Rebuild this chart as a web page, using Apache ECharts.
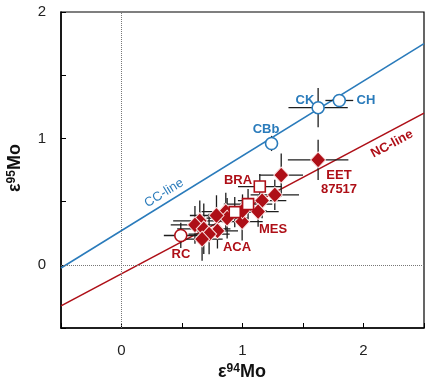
<!DOCTYPE html>
<html>
<head>
<meta charset="utf-8">
<script src="https://cdn.jsdelivr.net/npm/echarts@6/dist/echarts.min.js"></script>
<style>html,body{margin:0;padding:0;background:#fff;}#c{width:431px;height:384px;}</style>
</head>
<body>
<div id="c"></div>
<script>
// ---- data (epsilon94Mo, epsilon95Mo, x error, y error) ----
const diamondPts = [
  [1.625, 0.83, 0.25, 0.16],
  [1.32, 0.71, 0.18, 0.17],
  [1.267, 0.553, 0.2, 0.12],
  [1.162, 0.508, 0.2, 0.14],
  [1.129, 0.421, 0.17, 0.12],
  [0.997, 0.342, 0.17, 0.15],
  [1.0, 0.427, 0.2, 0.13],
  [0.862, 0.421, 0.2, 0.15],
  [0.873, 0.369, 0.17, 0.16],
  [0.785, 0.39, 0.22, 0.16],
  [0.793, 0.269, 0.17, 0.14],
  [0.647, 0.348, 0.22, 0.16],
  [0.607, 0.316, 0.2, 0.15],
  [0.68, 0.285, 0.22, 0.2],
  [0.724, 0.243, 0.17, 0.16],
  [0.666, 0.203, 0.17, 0.17]
];
const squarePts = [
  [1.143, 0.619, 0.18, 0.1],
  [1.046, 0.48, 0.2, 0.12],
  [0.936, 0.417, 0.17, 0.12]
];
const ccCircles = [
  [1.24, 0.96, 0.04, 0.06],
  [1.625, 1.243, 0.245, 0.155],
  [1.80, 1.30, 0.115, 0.03]
];
const rcCircle = [
  [0.49, 0.232, 0.14, 0.1]
];
const ccLine = [[-0.5, -0.025], [2.5, 1.75]];
const ncLine = [[-0.5, -0.325], [2.5, 1.2]];
const xTicks = [0, 1, 2];
const yTicks = [0, 1, 2];

const BLUE = '#2a7bbb';
const RED = '#ae0f17';
const FONT = '"Liberation Sans", Arial, sans-serif';

const allPts = diamondPts.concat(squarePts, ccCircles, rcCircle);

const chart = echarts.init(document.getElementById('c'), null, {renderer: 'canvas'});

function errRender(params, api) {
  const x = api.value(0), y = api.value(1), ex = api.value(2), ey = api.value(3);
  const l = api.coord([x - ex, y]), r = api.coord([x + ex, y]);
  const t = api.coord([x, y + ey]), b = api.coord([x, y - ey]);
  const st = {stroke: '#1e1e1e', lineWidth: 1.3};
  return {type: 'group', children: [
    {type: 'line', shape: {x1: l[0], y1: l[1], x2: r[0], y2: r[1]}, style: st},
    {type: 'line', shape: {x1: t[0], y1: t[1], x2: b[0], y2: b[1]}, style: st}
  ]};
}

const lbl = (text, x, y, color, extra) => Object.assign({
  type: 'text', x: x, y: y, z: 100,
  style: {text: text, fill: color, font: 'bold 13px ' + FONT, align: 'center', verticalAlign: 'middle'}
}, extra || {});

chart.setOption({
  animation: false,
  backgroundColor: '#fff',
  grid: {left: 61, right: 7, top: 12, bottom: 56, show: true, borderColor: '#000', borderWidth: 1.2, backgroundColor: 'transparent'},
  xAxis: {
    type: 'value', min: -0.5, max: 2.5, interval: 0.5,
    axisLine: {onZero: false, lineStyle: {color: '#000', width: 1.5}},
    axisTick: {inside: true, length: 5, lineStyle: {color: '#000', width: 1}},
    axisLabel: {margin: 15, color: '#222', fontSize: 15, fontFamily: FONT,
      formatter: v => (xTicks.indexOf(v) >= 0 ? String(v) : '')},
    splitLine: {show: false}
  },
  yAxis: {
    type: 'value', min: -0.5, max: 2, interval: 0.5,
    axisLine: {onZero: false, lineStyle: {color: '#000', width: 1.5}},
    axisTick: {inside: true, length: 5, lineStyle: {color: '#000', width: 1}},
    axisLabel: {margin: 15, color: '#222', fontSize: 15, fontFamily: FONT,
      formatter: v => (yTicks.indexOf(v) >= 0 ? String(v) : '')},
    splitLine: {show: false}
  },
  series: [
    {
      type: 'line', data: ccLine, symbol: 'none', z: 2,
      lineStyle: {color: BLUE, width: 1.6},
      markLine: {
        silent: true, symbol: ['none', 'none'], label: {show: false},
        lineStyle: {type: 'dotted', color: '#777', width: 1},
        data: [{xAxis: 0}, {yAxis: 0}]
      }
    },
    {type: 'line', data: ncLine, symbol: 'none', z: 2, lineStyle: {color: RED, width: 1.6}},
    {type: 'custom', renderItem: errRender, data: allPts, encode: {x: 0, y: 1}, z: 3},
    {type: 'scatter', data: diamondPts, symbol: 'diamond', symbolSize: [15, 16], z: 5,
      itemStyle: {color: RED, borderColor: '#fbe3e3', borderWidth: 1, opacity: 1}},
    {type: 'scatter', data: squarePts, symbol: 'rect', symbolSize: 11, z: 6,
      itemStyle: {color: '#fff', borderColor: RED, borderWidth: 1.6, opacity: 1}},
    {type: 'scatter', data: ccCircles, symbol: 'circle', symbolSize: 12, z: 6,
      itemStyle: {color: '#fff', borderColor: BLUE, borderWidth: 1.6, opacity: 1}},
    {type: 'scatter', data: rcCircle, symbol: 'circle', symbolSize: 12, z: 6,
      itemStyle: {color: '#fff', borderColor: RED, borderWidth: 1.6, opacity: 1}}
  ],
  graphic: [
    lbl('CK', 305, 100, BLUE),
    lbl('CH', 366, 100, BLUE),
    lbl('CBb', 266, 129, BLUE),
    lbl('BRA', 238, 180, RED),
    lbl('EET', 339, 175, RED),
    lbl('87517', 339, 189, RED),
    lbl('MES', 273, 229, RED),
    lbl('ACA', 237, 247, RED),
    lbl('RC', 181, 254, RED),
    lbl('CC-line', 164, 193, BLUE, {rotation: 0.55, style: {text: 'CC-line', fill: BLUE, font: '13px ' + FONT, align: 'center', verticalAlign: 'middle'}}),
    lbl('NC-line', 392, 144, RED, {rotation: 0.49, style: {text: 'NC-line', fill: RED, font: 'bold 13px ' + FONT, align: 'center', verticalAlign: 'middle'}}),
    {type: 'text', x: 242, y: 372, style: {
      text: '{e|ε}{s|94}{m|Mo}', align: 'center', verticalAlign: 'middle',
      rich: {
        e: {font: 'bold 18px ' + FONT, fill: '#111'},
        s: {font: 'bold 12px ' + FONT, fill: '#111', verticalAlign: 'top'},
        m: {font: 'bold 18px ' + FONT, fill: '#111'}
      }}},
    {type: 'text', x: 15, y: 168, rotation: Math.PI / 2, style: {
      text: '{e|ε}{s|95}{m|Mo}', align: 'center', verticalAlign: 'middle',
      rich: {
        e: {font: 'bold 18px ' + FONT, fill: '#111'},
        s: {font: 'bold 12px ' + FONT, fill: '#111', verticalAlign: 'top'},
        m: {font: 'bold 18px ' + FONT, fill: '#111'}
      }}}
  ]
});
</script>
</body>
</html>
